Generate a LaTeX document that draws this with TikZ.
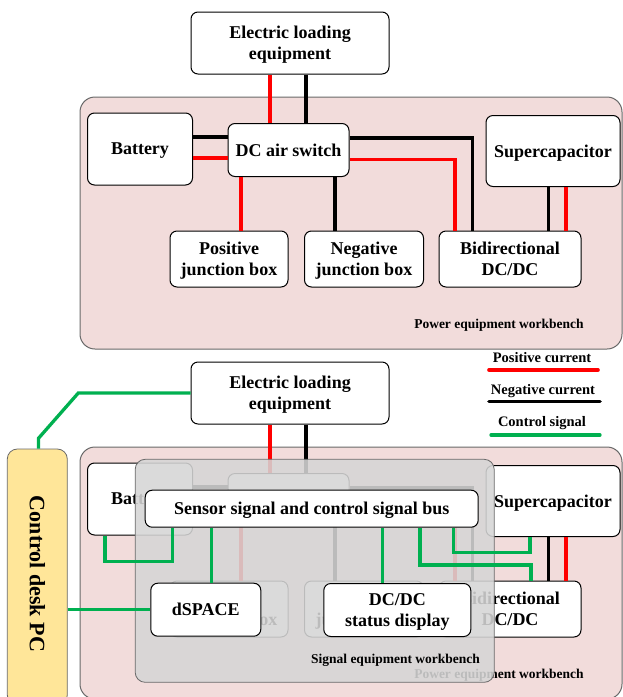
\documentclass[tikz,border=0pt]{standalone}
\usepackage{fontspec}
\setmainfont{Liberation Serif}
\definecolor{benchpink}{RGB}{242,220,219}
\definecolor{benchedge}{RGB}{105,105,105}
\definecolor{posred}{RGB}{255,0,0}
\definecolor{sigreen}{RGB}{0,176,80}
\definecolor{pcyellow}{RGB}{255,230,153}
\definecolor{siggrey}{RGB}{214,214,214}
\tikzset{
  box/.style={draw=black, line width=1pt, fill=white, rounded corners=7pt, align=center,
    inner sep=0pt, text depth=0pt, font=\fontsize{18}{21}\selectfont\bfseries},
  bench/.style={draw=benchedge, line width=1pt, fill=benchpink, rounded corners=15pt},
  pline/.style={draw=posred, line width=3.6pt},
  nline/.style={draw=black, line width=3.6pt},
  gline/.style={draw=sigreen, line width=3.3pt},
  smalllabel/.style={font=\fontsize{13.5}{16}\selectfont\bfseries, inner sep=0pt},
  legendtext/.style={font=\fontsize{14.5}{17}\selectfont\bfseries, inner sep=0pt},
}
\newcommand\powersection[2]{%
\begin{scope}[shift={(0,#1)}]
  \node[bench, minimum width=542pt, minimum height=252pt] (pw#2) at (351,223) {};
  \node[box, minimum width=198pt, minimum height=62pt] (el#2) at (290,43) {Electric loading\\equipment};
  \node[box, minimum width=105pt, minimum height=72pt] (bat#2) at (140,149) {Battery};
  \node[box, minimum width=121pt, minimum height=53pt] (sw#2) at (288.5,150) {DC air switch};
  \node[box, minimum width=134pt, minimum height=71pt] (sc#2) at (553,151) {Supercapacitor};
  \node[box, minimum width=118pt, minimum height=56pt] (pj#2) at (229,259) {Positive\\junction box};
  \node[box, minimum width=119pt, minimum height=56pt] (nj#2) at (364,259) {Negative\\junction box};
  \node[box, minimum width=142pt, minimum height=56pt] (bd#2) at (510,259) {Bidirectional\\DC/DC};
  \node[smalllabel] (pl#2) at (499,325) {Power equipment workbench};
  \draw[pline] ([xshift=-20pt]el#2.south) -- ([xshift=-20pt]el#2.south |- sw#2.north);
  \draw[nline] ([xshift=16pt]el#2.south) -- ([xshift=16pt]el#2.south |- sw#2.north);
  \draw[nline] ([yshift=12pt]bat#2.east) -- ([yshift=12pt]bat#2.east -| sw#2.west);
  \draw[pline] ([yshift=-9pt]bat#2.east) -- ([yshift=-9pt]bat#2.east -| sw#2.west);
  \draw[pline] ([xshift=-47.5pt]sw#2.south) -- ([xshift=-47.5pt]sw#2.south |- pj#2.north);
  \draw[nline] ([xshift=46.7pt]sw#2.south) -- ([xshift=46.7pt]sw#2.south |- nj#2.north);
  \draw[nline] ([yshift=12pt]sw#2.east) -| ([xshift=-37.7pt]bd#2.north);
  \draw[pline] ([yshift=-9.3pt]sw#2.east) -| ([xshift=-55.3pt]bd#2.north);
  \draw[nline] ([xshift=-4.5pt]sc#2.south) -- ([xshift=-4.5pt]sc#2.south |- bd#2.north);
  \draw[pline] ([xshift=12.8pt]sc#2.south) -- ([xshift=12.8pt]sc#2.south |- bd#2.north);
\end{scope}}
\begin{document}
\begin{tikzpicture}[x=1pt,y=-1pt]
  \useasboundingbox (0,0) rectangle (623,697);
  \clip (0,0) rectangle (623,697);
  \fill[white] (0,0) rectangle (623,697);
  % upper power workbench
  \powersection{0}{A}
  % legend
  \node[legendtext] (lgp) at (542,358) {Positive current};
  \node[legendtext] (lgn) at (543,391.5) {Negative current};
  \node[legendtext] (lgc) at (542,423) {Control signal};
  \coordinate (lgpa) at (489,370); \coordinate (lgpb) at (598,370);
  \coordinate (lgna) at (489,401.5); \coordinate (lgnb) at (600,401.5);
  \coordinate (lgca) at (491,435); \coordinate (lgcb) at (600,435);
  \draw[pline, line cap=round] (lgpa) -- (lgpb);
  \draw[nline, line cap=round] (lgna) -- (lgnb);
  \draw[gline, line cap=round] (lgca) -- (lgcb);
  % lower power workbench
  \powersection{350}{B}
  % control desk PC
  \node[draw=benchedge, fill=pcyellow, rounded corners=10pt, line width=0.8pt,
        minimum width=60pt, minimum height=256pt] (pc) at (37.3,577) {};
  \node[font=\fontsize{22}{26}\selectfont\bfseries, rotate=-90, inner sep=0pt] (pctext) at (37.3,574) {Control desk PC};
  % signal equipment workbench overlay
  \node[draw=benchedge, fill=siggrey, fill opacity=0.88, rounded corners=10pt, line width=0.8pt,
        minimum width=359pt, minimum height=223pt] (sigbench) at (314.7,570.8) {};
  \node[smalllabel] (sl) at (395.5,660) {Signal equipment workbench};
  \node[box, minimum width=333pt, minimum height=37pt] (bus) at (311.7,508.7) {Sensor signal and control signal bus};
  \node[box, minimum width=110pt, minimum height=53pt] (ds) at (205.8,609.7) {dSPACE};
  \node[box, minimum width=147pt, minimum height=53pt] (st) at (397.3,610) {DC/DC\\status display};
  % control signal connectors
  \coordinate (g1) at (78.3,393);
  \coordinate (g2) at (38.5,438.3);
  \draw[gline] (elB.west) -- (g1) -- (g2) -- (g2 |- pc.north);
  \draw[gline] (pc.east |- ds.west) -- (ds.west);
  \coordinate (gb) at (172.3,561.7);
  \draw[gline] ([xshift=-35pt]batB.south) |- (gb) -- (gb |- bus.south);
  \draw[gline] ([xshift=6pt]ds.north) -- ([xshift=6pt]ds.north |- bus.south);
  \draw[gline] ([xshift=-15pt]st.north) -- ([xshift=-15pt]st.north |- bus.south);
  \coordinate (gs) at (530,552.7);
  \draw[gline] ([xshift=141.6pt]bus.south) |- (gs) -- (gs |- scB.south);
  \coordinate (gd) at (531,565);
  \draw[gline] ([xshift=108.3pt]bus.south) |- (gd) -- (gd |- bdB.north);
\end{tikzpicture}
\end{document}
